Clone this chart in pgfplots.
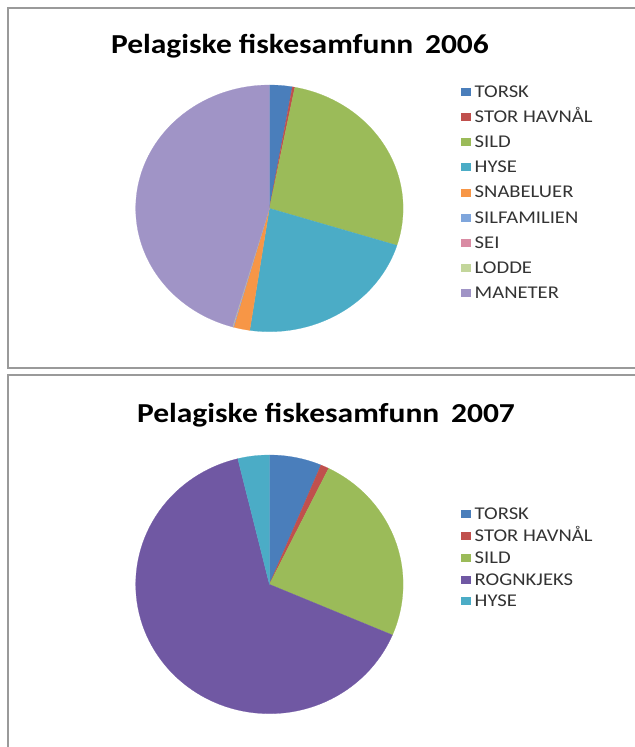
\documentclass[border=0pt]{standalone}
\usepackage{pgfplots}
\pgfplotsset{compat=1.18}
\usepackage{fontspec}
\setmainfont{Carlito}[FakeStretch=1.15]

\definecolor{torsk}{HTML}{4A7EBB}
\definecolor{havnal}{HTML}{C0504D}
\definecolor{sild}{HTML}{9BBB59}
\definecolor{hyse}{HTML}{4BACC6}
\definecolor{snabel}{HTML}{F79646}
\definecolor{silfam}{HTML}{7FA6DC}
\definecolor{sei}{HTML}{D98BA3}
\definecolor{lodde}{HTML}{C3D69B}
\definecolor{maneter}{HTML}{A094C6}
\definecolor{rogn}{HTML}{7058A3}
\definecolor{frame}{HTML}{9A9A9A}

% one wedge, clockwise from 12 o'clock; #2 is the share in percent
\newcommand\pieslice[3]{%
  \pgfmathsetmacro\angA{90-3.6*(\cum+#2)}%
  \pgfmathsetmacro\angB{90-3.6*\cum}%
  \pgfmathsetmacro\newcum{\cum+#2}\xdef\cum{\newcum}%
  \edef\doslice{\noexpand\addplot[fill=#1, draw=#1, line width=0.2pt,
    domain=\angA:\angB, samples=90, variable=\noexpand\t]
    ({cos(\noexpand\t)}, {sin(\noexpand\t)}) -- (axis cs:0,0) -- cycle;}%
  \doslice
  \addlegendentry{#3}}

\pgfplotsset{
  pie/.style={scale only axis, hide axis, clip=false,
    xmin=-1, xmax=1, ymin=-1, ymax=1,
    legend image code/.code={\fill[##1] (0bp,-3.5bp) rectangle (8.5bp,3.5bp);},
    legend style={draw=none, fill=none, inner sep=0pt, outer sep=0pt,
      column sep=5bp, anchor=north west,
      font=\fontsize{18}{20}\selectfont\color{black!80},
      nodes={inner sep=0pt, text height=11.6bp, text depth=0pt}},
    legend cell align=left},
}

\begin{document}
\begin{tikzpicture}[x=1bp, y=1bp]
\useasboundingbox (0,0) rectangle (635,-747);
\coordinate (pie1) at (135.7,-331.7);
\coordinate (pie2) at (135.7,-713.7);
% panel frames
\draw[frame, line width=1.6bp] (650,-8) -- (8,-8) -- (8,-368) -- (650,-368);
\draw[frame, line width=1.6bp] (650,-375) -- (8,-375) -- (8,-760);

\node[anchor=base, font=\fontsize{27.5}{30}\selectfont\bfseries] at (300,-54) {Pelagiske fiskesamfunn\, 2006};
\node[anchor=base, font=\fontsize{27.5}{30}\selectfont\bfseries] at (326,-422) {Pelagiske fiskesamfunn\, 2007};

\begin{axis}[pie, at={(pie1)}, anchor=south west, width=267.4bp, height=246.7bp,
  legend style={at={(1.2166,0.996)}, row sep=13.5bp}]
  \gdef\cum{0}
  \pieslice{torsk}{2.75}{TORSK}
  \pieslice{havnal}{0.3}{STOR HAVNÅL}
  \pieslice{sild}{26.8}{SILD}
  \pieslice{hyse}{22.5}{HYSE}
  \pieslice{snabel}{1.95}{SNABELUER}
  \pieslice{silfam}{0.05}{SILFAMILIEN}
  \pieslice{sei}{0.05}{SEI}
  \pieslice{lodde}{0.05}{LODDE}
  \pieslice{maneter}{45.55}{MANETER}
\end{axis}

\begin{axis}[pie, at={(pie2)}, anchor=south west, width=267.4bp, height=258.7bp,
  legend style={at={(1.2166,0.795)}, row sep=10.2bp}]
  \gdef\cum{0}
  \pieslice{torsk}{6.3}{TORSK}
  \pieslice{havnal}{1.0}{STOR HAVNÅL}
  \pieslice{sild}{24.1}{SILD}
  \pieslice{rogn}{64.8}{ROGNKJEKS}
  \pieslice{hyse}{3.8}{HYSE}
\end{axis}
\end{tikzpicture}
\end{document}
